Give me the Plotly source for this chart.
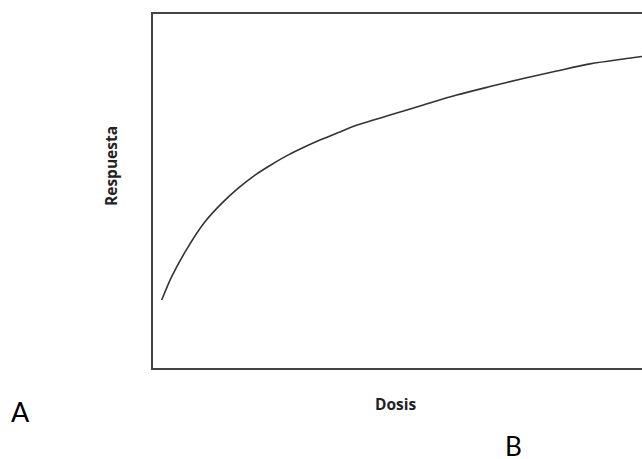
import plotly.graph_objects as go

# Data (arbitrary units)
dosis = [1.78, 3.82, 7.22, 10.63, 14.05, 17.44, 20.86, 24.27, 27.67, 31.08, 34.50,
         37.89, 41.31, 44.72, 48.12, 55.28, 62.11, 68.92, 75.73, 82.56, 89.37, 96.18, 100.0]
respuesta = [19.2, 25.8, 34.3, 41.3, 46.5, 50.8, 54.5, 57.5, 60.2, 62.5, 64.6,
             66.5, 68.4, 69.9, 71.3, 74.3, 77.1, 79.5, 81.8, 83.9, 85.9, 87.3, 88.0]

W, H = 642, 459
L, R, T, B = 153, 0, 14, 459 - 368
pw, ph = W - L - R, H - T - B

def px_x(x):
    return (x - L) / pw

def px_y(y):
    return (H - B - y) / ph

fig = go.Figure()
fig.add_trace(go.Scatter(x=dosis, y=respuesta, mode="lines",
                         line=dict(color="#333333", width=1.6, shape="spline", smoothing=0.8),
                         hoverinfo="skip", showlegend=False))

fig.update_layout(
    width=W, height=H,
    margin=dict(l=L, r=R, t=T, b=B),
    paper_bgcolor="white", plot_bgcolor="white",
    hovermode=False,
    xaxis=dict(range=[0, 100], showgrid=False, zeroline=False, showticklabels=False,
               ticks="", showline=True, mirror=True, linecolor="#444444", linewidth=2),
    yaxis=dict(range=[0, 100], showgrid=False, zeroline=False, showticklabels=False,
               ticks="", showline=True, mirror=False, linecolor="#444444", linewidth=2),
    annotations=[
        dict(text="<b>Respuesta</b>", x=px_x(111), y=px_y(166), xref="paper", yref="paper",
             textangle=-90, showarrow=False, xanchor="center", yanchor="middle",
             font=dict(family="Open Sans", size=15.5, color="#222222")),
        dict(text="<b>Dosis</b>", x=px_x(396), y=px_y(404), xref="paper", yref="paper",
             showarrow=False, xanchor="center", yanchor="middle",
             font=dict(family="Open Sans", size=15.5, color="#222222")),
        dict(text="A", x=px_x(20), y=px_y(411), xref="paper", yref="paper",
             showarrow=False, xanchor="center", yanchor="middle",
             font=dict(family="Lato", size=27, color="black")),
        dict(text="B", x=px_x(513), y=px_y(446), xref="paper", yref="paper",
             showarrow=False, xanchor="center", yanchor="middle",
             font=dict(family="Lato", size=26, color="black")),
    ],
)

fig.write_html("out.html",
               config={"displayModeBar": False, "staticPlot": True},
               post_script="document.body.style.margin='0';document.body.style.overflow='hidden';")
